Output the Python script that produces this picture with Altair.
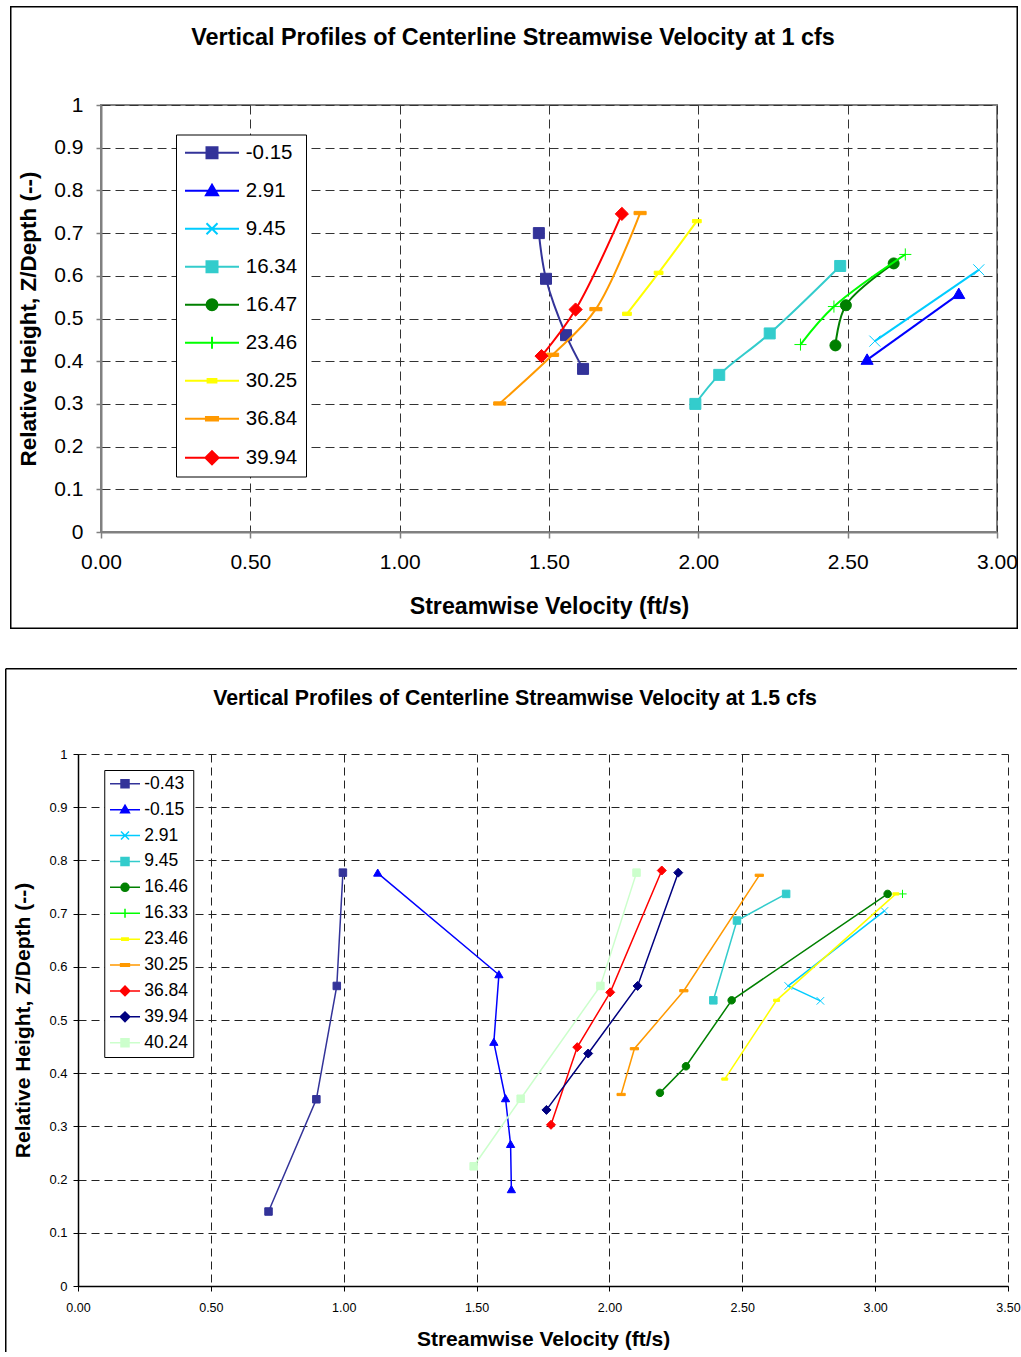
import altair as alt
import pandas as pd

FONT = "Liberation Sans"

# ---------------- Chart 1 : 1 cfs ----------------
C1_TITLE = "Vertical Profiles of Centerline Streamwise Velocity at 1 cfs"
C1_SERIES = ["-0.15", "2.91", "9.45", "16.34", "16.47", "23.46", "30.25", "36.84", "39.94"]
C1_COLORS = ["#333399", "#0000FF", "#00CCFF", "#33CCCC", "#008000", "#00FF00", "#FFFF00", "#FF9900", "#FF0000"]
C1_MARKERS = ["square", "triangle", "x", "square", "circle", "plus", "dash_small", "dash", "diamond"]
C1_VELOCITY = [
    [1.614, 1.557, 1.490, 1.466],
    [2.565, 2.872],
    [2.591, 2.939],
    [1.990, 2.070, 2.239, 2.475],
    [2.459, 2.494, 2.654],
    [2.342, 2.454, 2.693],
    [1.761, 1.867, 1.995],
    [1.335, 1.512, 1.657, 1.805],
    [1.475, 1.589, 1.744],
]
C1_HEIGHT = [
    [0.382, 0.461, 0.593, 0.700],
    [0.403, 0.557],
    [0.447, 0.614],
    [0.300, 0.368, 0.465, 0.623],
    [0.437, 0.531, 0.629],
    [0.439, 0.528, 0.650],
    [0.511, 0.607, 0.728],
    [0.301, 0.415, 0.522, 0.747],
    [0.412, 0.521, 0.745],
]
C1_XTICKS = [0.0, 0.5, 1.0, 1.5, 2.0, 2.5, 3.0]
C1_YTICKS = [0.0, 0.1, 0.2, 0.3, 0.4, 0.5, 0.6, 0.7, 0.8, 0.9, 1.0]

# ---------------- Chart 2 : 1.5 cfs ----------------
C2_TITLE = "Vertical Profiles of Centerline Streamwise Velocity at 1.5 cfs"
C2_SERIES = ["-0.43", "-0.15", "2.91", "9.45", "16.46", "16.33", "23.46", "30.25", "36.84", "39.94", "40.24"]
C2_COLORS = ["#333399", "#0000FF", "#00CCFF", "#33CCCC", "#008000", "#00FF00", "#FFFF00",
             "#FF9900", "#FF0000", "#000080", "#CCFFCC"]
C2_MARKERS = ["square", "triangle", "x", "square", "circle", "plus", "dash_small", "dash",
              "diamond", "diamond", "square"]
C2_VELOCITY = [
    [0.717, 0.897, 0.974, 0.997],
    [1.631, 1.628, 1.609, 1.565, 1.584, 1.128],
    [2.794, 2.673, 3.035],
    [2.391, 2.480, 2.665],
    [2.190, 2.288, 2.460, 3.047],
    [3.103],
    [2.434, 2.629, 3.078],
    [2.044, 2.094, 2.280, 2.564],
    [1.780, 1.879, 2.003, 2.197],
    [1.763, 1.920, 2.106, 2.259],
    [1.489, 1.666, 1.966, 2.102],
]
C2_HEIGHT = [
    [0.140, 0.351, 0.564, 0.777],
    [0.181, 0.266, 0.352, 0.458, 0.585, 0.776],
    [0.536, 0.564, 0.705],
    [0.537, 0.687, 0.737],
    [0.363, 0.413, 0.537, 0.737],
    [0.737],
    [0.389, 0.537, 0.737],
    [0.360, 0.446, 0.555, 0.772],
    [0.303, 0.449, 0.552, 0.781],
    [0.331, 0.437, 0.564, 0.777],
    [0.225, 0.352, 0.564, 0.777],
]
C2_XTICKS = [0.0, 0.5, 1.0, 1.5, 2.0, 2.5, 3.0, 3.5]
C2_YTICKS = [0.0, 0.1, 0.2, 0.3, 0.4, 0.5, 0.6, 0.7, 0.8, 0.9, 1.0]

X_TITLE = "Streamwise Velocity (ft/s)"
Y_TITLE = "Relative Height, Z/Depth (--)"


def r3(v):
    return round(v, 3)


def marker(kind, a):
    if kind == "square":
        return f"M{r3(-a)},{r3(-a)}H{r3(a)}V{r3(a)}H{r3(-a)}Z"
    if kind == "triangle":
        return f"M0,{r3(-1.1*a)}L{r3(1.1*a)},{r3(0.8*a)}L{r3(-1.1*a)},{r3(0.8*a)}Z"
    if kind == "circle":
        return f"M{r3(a)},0A{r3(a)},{r3(a)} 0 1,1 {r3(-a)},0A{r3(a)},{r3(a)} 0 1,1 {r3(a)},0Z"
    if kind == "diamond":
        b = 1.2 * a
        return f"M0,{r3(-b)}L{r3(b)},0L0,{r3(b)}L{r3(-b)},0Z"
    if kind == "x":
        return f"M{r3(-a)},{r3(-a)}L{r3(a)},{r3(a)}M{r3(-a)},{r3(a)}L{r3(a)},{r3(-a)}"
    if kind == "plus":
        b = 1.1 * a
        return f"M{r3(-b)},0H{r3(b)}M0,{r3(-b)}V{r3(b)}"
    if kind == "dash":
        return f"M{r3(-1.1*a)},{r3(-0.3*a)}H{r3(1.1*a)}V{r3(0.3*a)}H{r3(-1.1*a)}Z"
    # dash_small
    return f"M{r3(-0.8*a)},{r3(-0.3*a)}H{r3(0.8*a)}V{r3(0.3*a)}H{r3(-0.8*a)}Z"


def make_df(names, vels, heights):
    rows = []
    for name, vs, zs in zip(names, vels, heights):
        for i, (v, z) in enumerate(zip(vs, zs)):
            rows.append({"series": name, "i": i, "v": v, "z": z})
    return pd.DataFrame(rows)


def series_layers(df, names, colors, markers, X, Y, a, lw, interp):
    layers = []
    for name, col, mk in zip(names, colors, markers):
        base = alt.Chart(df).transform_filter(alt.datum.series == name)
        line = base.mark_line(color=col, strokeWidth=lw, interpolate=interp).encode(
            x=X, y=Y, order=alt.Order("i:Q"))
        pts = base.mark_point(shape=marker(mk, a), filled=True, fill=col, stroke=col,
                              strokeWidth=1, size=100, opacity=1).encode(x=X, y=Y)
        layers += [line, pts]
    return layers


def legend_layer(names, colors, markers, half_line, a, leg):
    paths = [f"M{r3(-half_line)},0H{r3(half_line)}" + marker(m, a) for m in markers]
    src = alt.Data(values=[{"series": s} for s in names])
    return alt.Chart(src).mark_point(filled=True, opacity=1, strokeWidth=leg["sw"]).encode(
        color=alt.Color("series:N", scale=alt.Scale(domain=names, range=colors), legend=leg["legend"]),
        stroke=alt.Stroke("series:N", scale=alt.Scale(domain=names, range=colors), legend=leg["legend"]),
        shape=alt.Shape("series:N", scale=alt.Scale(domain=names, range=paths), legend=leg["legend"]),
    ).transform_filter("false")


one_row = alt.Data(values=[{"k": 0}])

# ---------------- top chart (plot origin at page x=101, y=104) ----------------
df1 = make_df(C1_SERIES, C1_VELOCITY, C1_HEIGHT)
X1 = alt.X("v:Q", scale=alt.Scale(domain=[0, 3], nice=False, zero=False),
           axis=alt.Axis(title=X_TITLE, values=C1_XTICKS, format=".2f", grid=True,
                         gridDash=[9, 5], gridColor="#333333", gridWidth=1,
                         domainColor="#808080", domainWidth=2, tickColor="#808080",
                         tickSize=6, tickWidth=1.5, labelFont=FONT, labelFontSize=21,
                         labelColor="black", labelPadding=13, labelFlush=False, labelOverlap=False,
                         titleFont=FONT, titleFontSize=23.2, titleFontWeight="bold",
                         titleColor="black", titleY=74, titleBaseline="middle"))
Y1 = alt.Y("z:Q", scale=alt.Scale(domain=[0, 1], nice=False, zero=False),
           axis=alt.Axis(title=Y_TITLE, values=C1_YTICKS, format="~g", grid=True,
                         gridDash=[9, 5], gridColor="#333333", gridWidth=1,
                         domainColor="#808080", domainWidth=2, tickColor="#808080",
                         tickSize=5, tickWidth=1.5, labelFont=FONT, labelFontSize=21,
                         labelColor="black", labelPadding=13, labelFlush=False, labelOverlap=False,
                         titleFont=FONT, titleFontSize=22.5, titleFontWeight="bold",
                         titleColor="black", titleX=-73, titleBaseline="middle"))

# legend of the top chart is placed relative to the top row (origin 23 px left of the plot)
LEG1 = dict(sw=2, legend=alt.Legend(title=None, orient="none", legendX=98, legendY=29.5, padding=8,
                                    strokeColor="#000000", fillColor="white", symbolSize=100,
                                    symbolStrokeWidth=2, symbolOffset=17.75, labelOffset=23.5,
                                    labelFont=FONT, labelFontSize=20.5, labelColor="black",
                                    rowPadding=17.0, labelLimit=300, direction="vertical"))

frame1 = alt.Chart(one_row).mark_rect(fill="transparent", stroke="black", strokeWidth=1.5).encode(
    x=alt.value(-90.25), x2=alt.value(916.25), y=alt.value(-98.25), y2=alt.value(523.25))
title1 = alt.Chart(one_row).mark_text(text=C1_TITLE, font=FONT, fontSize=23.4, fontWeight="bold",
                                      align="center", baseline="middle", color="black").encode(
    x=alt.value(412), y=alt.value(-67))

top = alt.layer(
    frame1, title1,
    *series_layers(df1, C1_SERIES, C1_COLORS, C1_MARKERS, X1, Y1, 1.1, 2, "catmull-rom"),
    legend_layer(C1_SERIES, C1_COLORS, C1_MARKERS, 5.4, 1.1, LEG1),
).properties(width=896, height=427,
             view=alt.ViewBackground(stroke="#808080", strokeWidth=2, fill="white"))

# small invisible spacer that shifts the top plot 23 px right of the bottom plot
spacer = alt.Chart(one_row).mark_point(opacity=0, size=1).properties(
    width=1, height=1, view=alt.ViewBackground(stroke="transparent"))

top_row = alt.hconcat(spacer, top, spacing=22, bounds="flush")

# ---------------- bottom chart (plot origin at page x=78, y=754) ----------------
df2 = make_df(C2_SERIES, C2_VELOCITY, C2_HEIGHT)
X2 = alt.X("v:Q", scale=alt.Scale(domain=[0, 3.5], nice=False, zero=False),
           axis=alt.Axis(title=X_TITLE, values=C2_XTICKS, format=".2f", grid=True,
                         gridDash=[8, 5], gridColor="#222222", gridWidth=1,
                         domainColor="black", domainWidth=1.5, tickColor="black",
                         tickSize=5, tickWidth=1, labelFont=FONT, labelFontSize=12.5,
                         labelColor="black", labelPadding=10, labelFlush=False, labelOverlap=False,
                         titleFont=FONT, titleFontSize=21, titleFontWeight="bold",
                         titleColor="black", titleY=53, titleBaseline="middle"))
Y2 = alt.Y("z:Q", scale=alt.Scale(domain=[0, 1], nice=False, zero=False),
           axis=alt.Axis(title=Y_TITLE, values=C2_YTICKS, format="~g", grid=True,
                         gridDash=[8, 5], gridColor="#222222", gridWidth=1,
                         domainColor="black", domainWidth=1.5, tickColor="black",
                         tickSize=5, tickWidth=1, labelFont=FONT, labelFontSize=13,
                         labelColor="black", labelPadding=6, labelFlush=False, labelOverlap=False,
                         titleFont=FONT, titleFontSize=21, titleFontWeight="bold",
                         titleColor="black", titleX=-55, titleBaseline="middle"))

LEG2 = dict(sw=1.5, legend=alt.Legend(title=None, orient="none", legendX=26.25, legendY=16, padding=5,
                                      strokeColor="#000000", fillColor="white", symbolSize=100,
                                      symbolStrokeWidth=1.5, symbolOffset=7, labelOffset=10.5,
                                      labelFont=FONT, labelFontSize=17.5, labelColor="black",
                                      rowPadding=6.9, labelLimit=300, direction="vertical"))

frame2_left = alt.Chart(one_row).mark_rule(color="black", strokeWidth=1.5).encode(
    x=alt.value(-72.25), y=alt.value(-85.25), y2=alt.value(598))
frame2_top = alt.Chart(one_row).mark_rule(color="black", strokeWidth=1.5).encode(
    x=alt.value(-72.25), x2=alt.value(939), y=alt.value(-85.25))
title2 = alt.Chart(one_row).mark_text(text=C2_TITLE, font=FONT, fontSize=21.3, fontWeight="bold",
                                      align="center", baseline="middle", color="black").encode(
    x=alt.value(437), y=alt.value(-55))

bottom = alt.layer(
    frame2_left, frame2_top, title2,
    *series_layers(df2, C2_SERIES, C2_COLORS, C2_MARKERS, X2, Y2, 0.75, 1.5, "linear"),
    legend_layer(C2_SERIES, C2_COLORS, C2_MARKERS, 3.0, 0.8, LEG2),
).properties(width=930, height=532,
             view=alt.ViewBackground(stroke="transparent", fill="white"))

chart = alt.vconcat(top_row, bottom, spacing=37).resolve_scale(
    color="independent", stroke="independent", shape="independent"
).properties(
    padding={"left": 4, "top": 5, "right": 0, "bottom": 0},
    background="white",
).configure(font=FONT)

chart.save("out.html", embed_options={"renderer": "svg", "actions": False})
